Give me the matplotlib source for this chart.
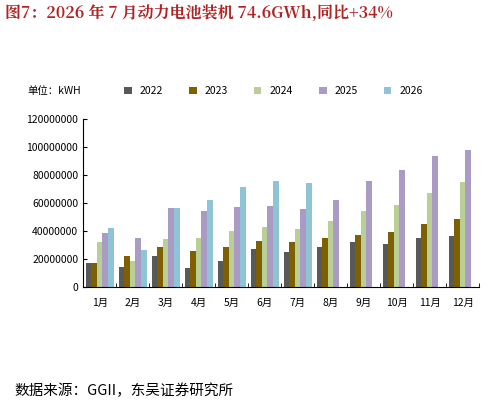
import matplotlib
matplotlib.use("Agg")
import matplotlib.pyplot as plt
import numpy as np
from matplotlib.ticker import FuncFormatter

plt.rcParams['font.family'] = ['Noto Sans CJK SC', 'DejaVu Sans']

months = ['1月','2月','3月','4月','5月','6月','7月','8月','9月','10月','11月','12月']
series_names = ['2022','2023','2024','2025','2026']
v2022 = [17.0,14.5,22.0,14.0,18.5,27.0,25.0,28.5,32.0,31.0,35.0,36.5]
v2023 = [17.0,22.5,28.5,25.5,29.0,33.0,32.5,35.0,37.0,39.5,45.5,48.5]
v2024 = [32.5,18.5,34.5,35.5,40.0,43.0,41.5,47.0,54.5,59.0,67.0,75.5]
v2025 = [39.0,35.0,56.5,54.5,57.0,58.0,56.0,62.0,76.0,84.0,93.5,98.0]
v2026 = [42.5,26.5,56.5,62.0,71.5,76.0,74.6]
data = [v2022, v2023, v2024, v2025, v2026]
colors = ['#595959', '#7f6000', '#b9cf96', '#a99bc4', '#8fc3d6']

fig = plt.figure(figsize=(4.95, 4.09), dpi=100)
fig.text(0.01, 0.955, '图7：2026 年 7 月动力电池装机 74.6GWh,同比+34%', fontsize=11.5,
         fontweight='bold', color='#b22222', family=['Noto Serif CJK SC', 'Noto Sans CJK SC', 'DejaVu Sans'])
fig.text(0.03, 0.035, '数据来源：GGII，东吴证券研究所', fontsize=10.5, color='black')

ax = fig.add_axes([0.168, 0.298, 0.80, 0.41])
x = np.arange(12)
w = 0.17
for i, (name, vals, c) in enumerate(zip(series_names, data, colors)):
    xs = x[:len(vals)] + (i - 2) * w
    ax.bar(xs, np.array(vals) * 1e6, width=w, color=c, label=name)
ax.set_ylim(0, 120e6)
ax.set_yticks(np.arange(0, 120e6 + 1, 20e6))
ax.yaxis.set_major_formatter(FuncFormatter(lambda v, p: f'{int(v)}'))
ax.set_xlim(-0.5, 11.5)
ax.set_xticks(x)
ax.set_xticklabels(months)
ax.set_xticks(np.arange(-0.5, 12, 1), minor=True)
ax.tick_params(axis='x', which='major', length=0, labelsize=7.5, pad=8)
ax.tick_params(axis='x', which='minor', length=3, direction='in')
ax.tick_params(axis='y', labelsize=7.5, length=3, direction='in')
for s in ['top', 'right']:
    ax.spines[s].set_visible(False)
fig.text(0.055, 0.77, '单位：kWH', fontsize=7.5)
ax.legend(loc='center left', bbox_to_anchor=(0.08, 1.17), ncol=5, frameon=False,
          fontsize=7.5, handlelength=0.7, handleheight=0.7, columnspacing=2.5)
fig.savefig('out.png', dpi=100)
